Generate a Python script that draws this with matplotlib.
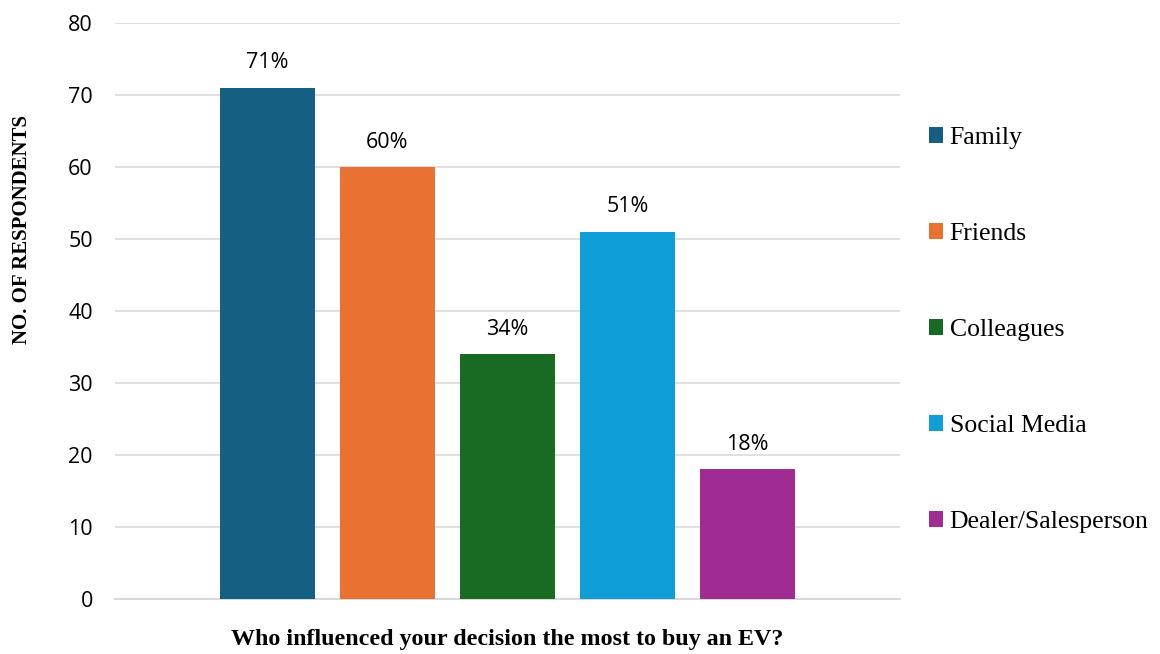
import numpy as np
import matplotlib.pyplot as plt
from matplotlib.patches import Patch

categories = ["Family", "Friends", "Colleagues", "Social Media", "Dealer/Salesperson"]
values = [71, 60, 34, 51, 18]
labels = ["71%", "60%", "34%", "51%", "18%"]
colors = ["#156082", "#E97132", "#196B24", "#0F9ED5", "#A02B93"]
y_ticks = [0, 10, 20, 30, 40, 50, 60, 70, 80]

fig = plt.figure(figsize=(11.6, 6.54), dpi=100)
W, H = 1160, 654
ax = fig.add_axes([115 / W, 55 / H, 785 / W, 576 / H])

x = np.arange(len(categories))
ax.bar(x, values, width=0.79, color=colors, zorder=3)

# data labels above bars
for xi, v, lab in zip(x, values, labels):
    ax.text(xi, v + 2.0, lab, ha="center", va="bottom",
            fontsize=15.5, family="Open Sans", color="#000000")

ax.set_xlim(-1.27, 5.27)
ax.set_ylim(0, 80)
ax.set_yticks(y_ticks)
ax.set_yticklabels([str(t) for t in y_ticks], family="Open Sans", fontsize=15.5)
ax.set_xticks([])
ax.tick_params(axis="y", length=0, pad=16)
ax.grid(axis="y", color="#d9d9d9", linewidth=1.2, zorder=0)
ax.axhline(0, color="#d9d9d9", linewidth=1.5, zorder=2, clip_on=False)
for s in ax.spines.values():
    s.set_visible(False)

fig.text(22 / W, 1 - 230 / H, "NO. OF RESPONDENTS", rotation=90, ha="center", va="center",
         family="Liberation Serif", fontweight="bold", fontsize=15)
fig.text(507 / W, 1 - 640 / H, "Who influenced your decision the most to buy an EV?",
         ha="center", va="center", family="Liberation Serif", fontweight="bold", fontsize=17.3)

handles = [Patch(facecolor=c) for c in colors]
fig.legend(handles, categories, loc="upper left", bbox_to_anchor=(906 / W, 1 - 104 / H),
           frameon=False, prop={"family": "Liberation Serif", "size": 18.5},
           labelspacing=2.88, handlelength=0.55, handleheight=0.55, handletextpad=0.25)

fig.savefig("out.png", dpi=100)
